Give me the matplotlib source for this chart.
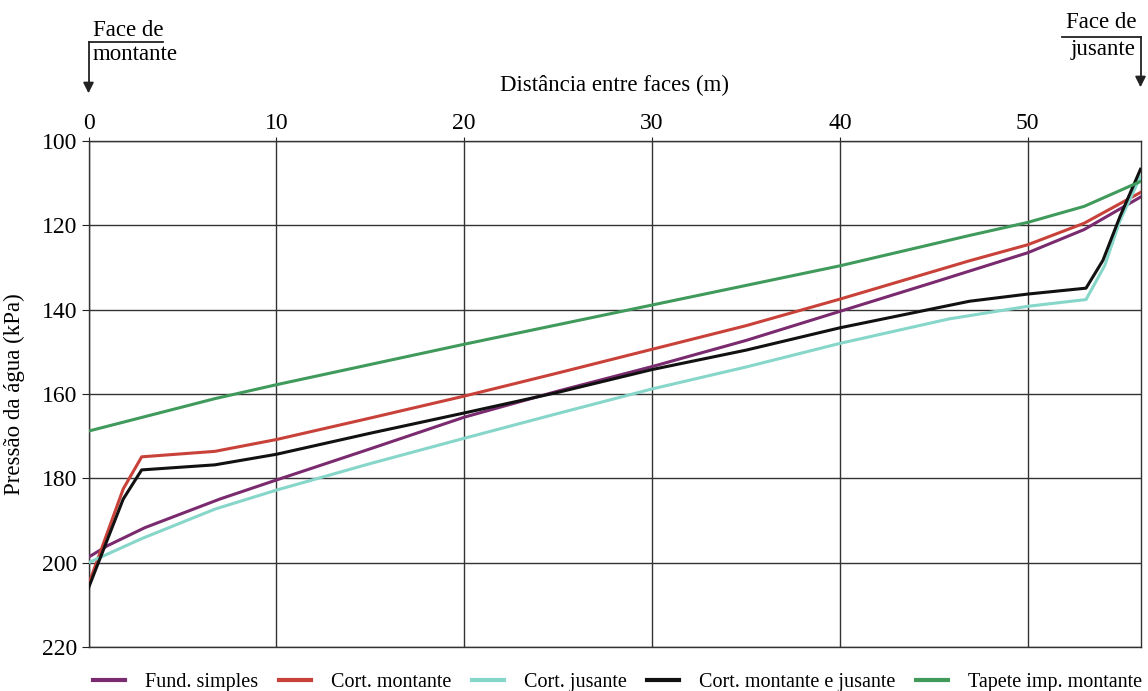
import matplotlib
matplotlib.use("Agg")
import matplotlib.pyplot as plt
from matplotlib.lines import Line2D
from matplotlib.transforms import blended_transform_factory

plt.rcParams['font.family'] = ['Liberation Serif', 'DejaVu Serif']

# ---- data ----
x_fund = [0, 1, 3, 7, 10, 15, 20, 25, 30, 35, 40, 45, 50, 53, 56]
p_fund = [198.7, 196.0, 191.7, 184.9, 180.4, 173.0, 165.5, 159.3, 153.5, 147.3, 140.4, 133.5, 126.5, 121.0, 113.3]

x_cmon = [0, 1.85, 2.83, 6.73, 10, 15, 20, 25, 30, 35, 40, 46.9, 50, 53, 56]
p_cmon = [205.2, 182.5, 174.9, 173.6, 170.8, 165.7, 160.5, 155.0, 149.4, 143.8, 137.5, 128.4, 124.6, 119.5, 112.2]

x_cjus = [0, 2.83, 6.73, 10, 15, 20, 25, 30, 35, 40, 45.8, 50, 53.1, 54.1, 54.9, 56]
p_cjus = [200.0, 194.3, 187.3, 182.8, 176.5, 170.5, 164.6, 158.8, 153.6, 148.0, 142.2, 139.2, 137.6, 129.5, 119.0, 108.4]

x_cmj = [0, 1.85, 2.83, 6.73, 10, 15, 20, 25, 30, 35, 40, 46.9, 50, 53.1, 54.0, 54.9, 56]
p_cmj = [206.0, 184.9, 178.0, 176.8, 174.3, 169.3, 164.5, 159.6, 154.2, 149.6, 144.3, 138.0, 136.3, 134.9, 128.3, 118.0, 106.7]

x_tap = [0, 6.73, 10, 20, 30, 40, 46.9, 50, 53, 56]
p_tap = [168.8, 161.1, 157.8, 148.2, 138.9, 129.6, 122.4, 119.3, 115.5, 109.6]

labels = ["Fund. simples", "Cort. montante", "Cort. jusante",
          "Cort. montante e jusante", "Tapete imp. montante"]
colors = ["#7a2a6e", "#c8423a", "#86d6c9", "#111111", "#3f9a5c"]

x_ticks = [0, 10, 20, 30, 40, 50]
y_ticks = [100, 120, 140, 160, 180, 200, 220]

# ---- figure ----
fig = plt.figure(figsize=(11.48, 6.91), dpi=100)
ax = fig.add_axes([88.5/1148, 1 - 647/691, (1140.5 - 88.5)/1148, (647 - 141)/691])

series = [(x_fund, p_fund), (x_cmon, p_cmon), (x_cjus, p_cjus), (x_cmj, p_cmj), (x_tap, p_tap)]
for (xs, ps), lab, c in zip(series, labels, colors):
    ax.plot(xs, ps, color=c, lw=2.2, label=lab, zorder=3)

ax.set_xlim(0, 56)
ax.set_ylim(220, 100)
ax.set_xticks(x_ticks)
ax.set_yticks(y_ticks)
ax.xaxis.tick_top()
ax.xaxis.set_label_position('top')
ax.tick_params(axis='x', length=3, labelsize=17, pad=2, color='#222222')
ax.tick_params(axis='y', length=5, labelsize=17, pad=3, color='#222222')
ax.grid(True, color='#333333', lw=1.0, zorder=1)
for s in ax.spines.values():
    s.set_color('#333333')
    s.set_linewidth(1.0)
ax.set_xlabel("Distância entre faces (m)", fontsize=16.5, labelpad=16)
ax.set_ylabel("Pressão da água (kPa)", fontsize=16.5, labelpad=12)

# ---- face annotations ----
tr = blended_transform_factory(ax.transData, fig.transFigure)
def fy(px):
    return 1 - px / 691

# left: Face de montante
ax.add_line(Line2D([0, 0], [fy(42), fy(86)], transform=tr, color='#222222', lw=1.3, clip_on=False))
ax.add_line(Line2D([0, 3.98], [fy(42), fy(42)], transform=tr, color='#222222', lw=1.3, clip_on=False))
ax.annotate("", xy=(0, fy(96)), xytext=(0, fy(84)), xycoords=tr, textcoords=tr,
            arrowprops=dict(arrowstyle='-|>', color='#222222', lw=1.2, mutation_scale=16))
fig.text(93/1148, fy(30), "Face de", fontsize=16.5, va='center', ha='left')
fig.text(93/1148, fy(54), "montante", fontsize=16.5, va='center', ha='left')

# right: Face de jusante
ax.add_line(Line2D([56, 56], [fy(37), fy(80)], transform=tr, color='#222222', lw=1.3, clip_on=False))
ax.add_line(Line2D([51.8, 56], [fy(37), fy(37)], transform=tr, color='#222222', lw=1.3, clip_on=False))
ax.annotate("", xy=(56, fy(90)), xytext=(56, fy(78)), xycoords=tr, textcoords=tr,
            arrowprops=dict(arrowstyle='-|>', color='#222222', lw=1.2, mutation_scale=16))
fig.text(1136/1148, fy(22), "Face de", fontsize=16.5, va='center', ha='right')
fig.text(1136/1148, fy(50), "jusante", fontsize=16.5, va='center', ha='right')

# ---- legend ----
fig.legend(loc='lower center', bbox_to_anchor=(0.538, -0.028), ncol=5, frameon=False,
           fontsize=14.5, handlelength=1.6, handletextpad=1.0, columnspacing=1.0)
for h in fig.legends[0].get_lines():
    h.set_linewidth(3)

fig.savefig("out.png", dpi=100)
